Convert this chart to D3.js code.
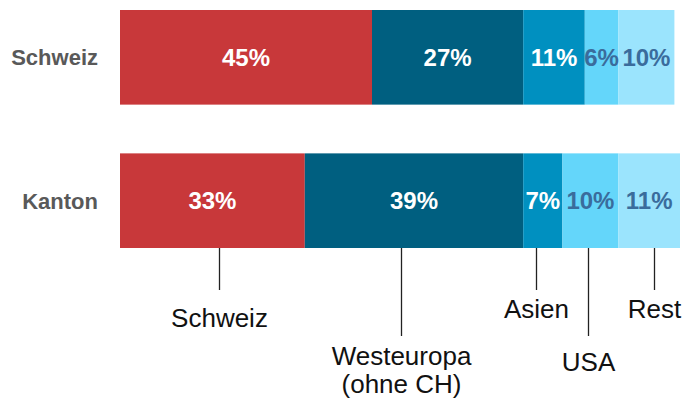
<!DOCTYPE html>
<html>
<head>
<meta charset="utf-8">
<script src="https://cdn.jsdelivr.net/npm/d3@7"></script>
<style>
  html, body { margin: 0; padding: 0; background: #fff; }
  svg { display: block; }
</style>
</head>
<body>
<svg id="chart" width="696" height="401"></svg>
<script>
// ---- data ----
const rows = ["Schweiz", "Kanton"];
const regions = ["Schweiz", "Westeuropa", "Asien", "USA", "Rest"];
const regionLabels = [["Schweiz"], ["Westeuropa", "(ohne CH)"], ["Asien"], ["USA"], ["Rest"]];
const schweizValues = [45, 27, 11, 6, 10];
const kantonValues = [33, 39, 7, 10, 11];

// ---- layout / style config ----
const colors = ["#c8383a", "#005f80", "#0090c0", "#64d6fa", "#9be4fd"];
const labelColors = ["#ffffff", "#ffffff", "#ffffff", "#3a6c9c", "#3a6c9c"];
const leaderAt = [17.7, 50.2, 74.3, 83.6, 95.4];       // in % units
const leaderEnd = [290, 336, 290, 336, 290];
const labelBaseline = [327, 365, 318, 371, 318];

const valuesByRow = { "Schweiz": schweizValues, "Kanton": kantonValues };

const svg = d3.select("#chart");
const x = d3.scaleLinear().domain([0, 100]).range([120, 680]);
const y = d3.scaleBand().domain(rows).range([10, 248]).paddingInner(0.34);

rows.forEach(r => {
  const vals = valuesByRow[r];
  let acc = 0;
  const segs = vals.map((v, i) => { const s = { i, v, x0: acc, x1: acc + v }; acc += v; return s; });
  const g = svg.append("g");
  g.selectAll("rect").data(segs).join("rect")
    .attr("x", d => x(d.x0))
    .attr("width", d => x(d.x1) - x(d.x0))
    .attr("y", y(r))
    .attr("height", y.bandwidth())
    .attr("fill", d => colors[d.i]);
  g.selectAll("text").data(segs).join("text")
    .attr("x", d => (x(d.x0) + x(d.x1)) / 2)
    .attr("y", y(r) + y.bandwidth() / 2)
    .attr("dy", "0.36em")
    .attr("text-anchor", "middle")
    .attr("font-family", "'Liberation Sans', Arial, sans-serif")
    .attr("font-weight", "bold")
    .attr("font-size", 24)
    .attr("fill", d => labelColors[d.i])
    .text(d => d.v + "%");
});

// row labels
const yAxis = d3.axisLeft(y).tickSize(0).tickPadding(0);
const ya = svg.append("g").attr("transform", "translate(98,0)").call(yAxis);
ya.select(".domain").remove();
ya.selectAll("text")
  .attr("font-family", "'Liberation Sans', Arial, sans-serif")
  .attr("font-weight", "bold")
  .attr("font-size", 22)
  .attr("fill", "#595959")
  .attr("dy", "0.36em");

// leader lines & region labels
const barBottom = y("Kanton") + y.bandwidth();
const lg = svg.append("g");
regions.forEach((reg, i) => {
  const lx = Math.round(x(leaderAt[i])) + 0.5;
  lg.append("line")
    .attr("x1", lx).attr("x2", lx)
    .attr("y1", barBottom).attr("y2", leaderEnd[i])
    .attr("stroke", "#222").attr("stroke-width", 1.3);
  const t = lg.append("text")
    .attr("x", lx)
    .attr("y", labelBaseline[i])
    .attr("text-anchor", "middle")
    .attr("font-family", "'Liberation Sans', Arial, sans-serif")
    .attr("font-size", 26)
    .attr("fill", "#111");
  regionLabels[i].forEach((line, k) => {
    t.append("tspan").attr("x", lx).attr("dy", k === 0 ? 0 : 28).text(line);
  });
});
</script>
</body>
</html>
